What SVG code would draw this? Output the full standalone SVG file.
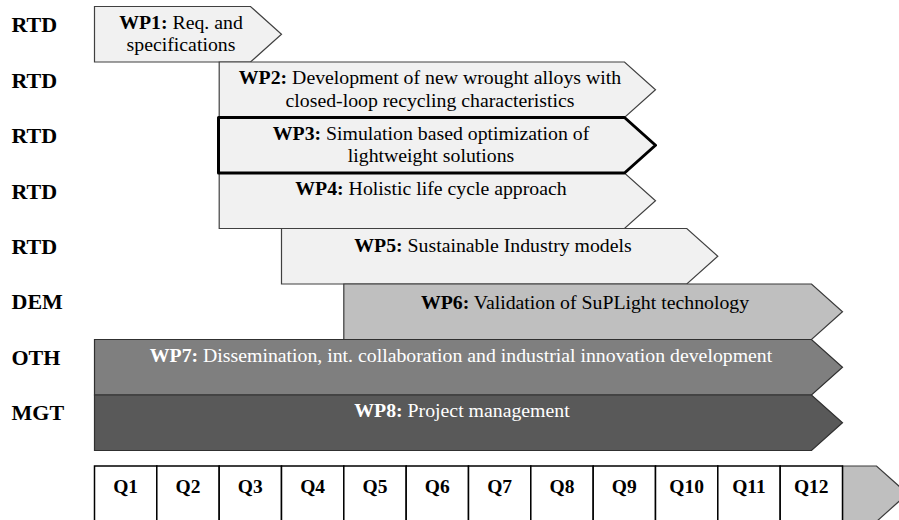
<svg xmlns="http://www.w3.org/2000/svg" width="899" height="520" viewBox="0 0 899 520">
<style>
.lbl{font-family:'Liberation Serif','DejaVu Serif',serif;font-weight:bold;font-size:22px;fill:#000}
.t{font-family:'Liberation Serif','DejaVu Serif',serif;font-size:19.8px;text-anchor:middle;fill:#000}
.t tspan.b{font-weight:bold}
.w{fill:#fff}
.light{fill:#f1f1f1;stroke:#404040;stroke-width:1.2}
.mid{fill:#bfbfbf;stroke:#3a3a3a;stroke-width:1.2}
.dk{fill:#7f7f7f;stroke:#303030;stroke-width:1.2}
.dk2{fill:#595959;stroke:#303030;stroke-width:1.2}
.thick{fill:#f1f1f1;stroke:#000;stroke-width:3;stroke-linejoin:round}
.cell{fill:#fff;stroke:#000;stroke-width:1.5}
.q{font-family:'Liberation Serif','DejaVu Serif',serif;font-weight:bold;font-size:19.5px;text-anchor:middle;fill:#000}
</style>
<g id="labels">
<text class="lbl" x="11.5" y="32.3">RTD</text>
<text class="lbl" x="11.5" y="87.7">RTD</text>
<text class="lbl" x="11.5" y="143.1">RTD</text>
<text class="lbl" x="11.5" y="198.5">RTD</text>
<text class="lbl" x="11.5" y="253.9">RTD</text>
<text class="lbl" x="11.5" y="309.3">DEM</text>
<text class="lbl" x="11.5" y="364.7">OTH</text>
<text class="lbl" x="11.5" y="420.1">MGT</text>
</g>
<g id="wp1">
<polygon class="light" points="94.5,6.5 250.5,6.5 281.5,34.25 250.5,62 94.5,62"/>
<text class="t" x="181"><tspan class="b" x="181" y="28.5">WP1:</tspan><tspan> Req. and</tspan><tspan x="181" y="50.5">specifications</tspan></text>
</g>
<g id="wp2">
<polygon class="light" points="219.2,62 624.5,62 655.5,89.75 624.5,117.5 219.2,117.5"/>
<text class="t"><tspan class="b" x="430" y="84">WP2:</tspan><tspan> Development of new wrought alloys with</tspan><tspan x="430" y="107">closed-loop recycling characteristics</tspan></text>
</g>
<g id="wp4">
<polygon class="light" points="219.2,173 624.5,173 655.5,200.75 624.5,228.5 219.2,228.5"/>
<text class="t" x="431" y="195"><tspan class="b">WP4:</tspan> Holistic life cycle approach</text>
</g>
<g id="wp3">
<polygon class="thick" points="218.5,117.5 624.5,117.5 655.5,145.25 624.5,173 218.5,173"/>
<text class="t"><tspan class="b" x="431" y="140">WP3:</tspan><tspan> Simulation based optimization of</tspan><tspan x="431" y="162">lightweight solutions</tspan></text>
</g>
<g id="wp5">
<polygon class="light" points="281.5,228.5 686.8,228.5 717.8,256.25 686.8,284 281.5,284"/>
<text class="t" x="493" y="251.5"><tspan class="b">WP5:</tspan> Sustainable Industry models</text>
</g>
<g id="wp6">
<polygon class="mid" points="343.8,284 811.5,284 842.5,311.75 811.5,339.5 343.8,339.5"/>
<text class="t" x="585" y="308.5"><tspan class="b">WP6:</tspan> Validation of SuPLight technology</text>
</g>
<g id="wp7">
<polygon class="dk" points="94.5,339.5 811.5,339.5 842.5,367.25 811.5,395 94.5,395"/>
<text class="t w" x="461" y="362"><tspan class="b">WP7:</tspan> Dissemination, int. collaboration and industrial innovation development</text>
</g>
<g id="wp8">
<polygon class="dk2" points="94.5,395 811.5,395 842.5,422.75 811.5,450.5 94.5,450.5"/>
<text class="t w" x="462" y="417"><tspan class="b">WP8:</tspan> Project management</text>
</g>
<g id="timeline">
<polygon class="mid" points="842.5,466 876.5,466 907.5,493.75 876.5,521.5 842.5,521.5" stroke-width="1"/>
<rect class="cell" x="94.5" y="466" width="62.3" height="56"/>
<rect class="cell" x="156.8" y="466" width="62.4" height="56"/>
<rect class="cell" x="219.2" y="466" width="62.3" height="56"/>
<rect class="cell" x="281.5" y="466" width="62.3" height="56"/>
<rect class="cell" x="343.8" y="466" width="62.4" height="56"/>
<rect class="cell" x="406.2" y="466" width="62.3" height="56"/>
<rect class="cell" x="468.5" y="466" width="62.3" height="56"/>
<rect class="cell" x="530.8" y="466" width="62.4" height="56"/>
<rect class="cell" x="593.2" y="466" width="62.3" height="56"/>
<rect class="cell" x="655.5" y="466" width="62.3" height="56"/>
<rect class="cell" x="717.8" y="466" width="62.4" height="56"/>
<rect class="cell" x="780.2" y="466" width="62.3" height="56"/>
<text class="q" x="125.6" y="493">Q1</text>
<text class="q" x="188" y="493">Q2</text>
<text class="q" x="250.3" y="493">Q3</text>
<text class="q" x="312.6" y="493">Q4</text>
<text class="q" x="375" y="493">Q5</text>
<text class="q" x="437.3" y="493">Q6</text>
<text class="q" x="499.6" y="493">Q7</text>
<text class="q" x="562" y="493">Q8</text>
<text class="q" x="624.3" y="493">Q9</text>
<text class="q" x="686.6" y="493">Q10</text>
<text class="q" x="749" y="493">Q11</text>
<text class="q" x="811.3" y="493">Q12</text>
</g>
</svg>
